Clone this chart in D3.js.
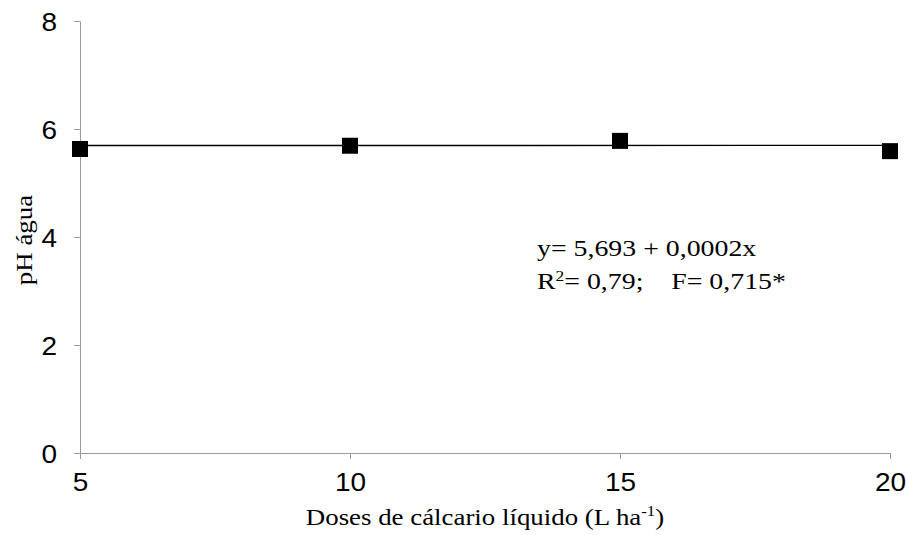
<!DOCTYPE html>
<html>
<head>
<meta charset="utf-8">
<script src="https://cdn.jsdelivr.net/npm/d3@7"></script>
<style>
  body { margin: 0; background: #fff; }
  svg { display: block; }
</style>
</head>
<body>
<div id="chart"></div>
<script>
// data
const doses = [5, 10, 15, 20];
const phValues = [5.63, 5.69, 5.78, 5.59];
const yTicks = [0, 2, 4, 6, 8];
const xTicks = [5, 10, 15, 20];
const fitA = 5.693, fitB = 0.0002;

const width = 906, height = 535;
const margin = {top: 21, right: 16, bottom: 82, left: 80};

const sans = "'Liberation Sans', Arial, sans-serif";
const serif = "'Liberation Serif', 'Times New Roman', serif";
const tickStretch = 1.12, serifStretch = 1.12;

const svg = d3.select("#chart").append("svg")
  .attr("width", width)
  .attr("height", height);

const x = d3.scaleLinear().domain([5, 20]).range([margin.left, width - margin.right]);
const y = d3.scaleLinear().domain([0, 8]).range([height - margin.bottom, margin.top]);

// y axis
const yAxis = svg.append("g")
  .attr("transform", "translate(" + margin.left + ",0)")
  .call(d3.axisLeft(y).tickValues(yTicks).tickSize(6));
yAxis.selectAll(".tick text")
  .attr("x", -23 / tickStretch)
  .attr("dy", "0.36em");

// x axis
const xAxis = svg.append("g")
  .attr("transform", "translate(0," + y(0) + ")")
  .call(d3.axisBottom(x).tickValues(xTicks).tickSize(6).tickPadding(14));

[yAxis, xAxis].forEach(function(g) {
  g.select(".domain").attr("stroke", "#9a9a9a");
  g.selectAll(".tick line").attr("stroke", "#9a9a9a");
  g.selectAll(".tick text")
    .attr("fill", "#000")
    .attr("transform", "scale(" + tickStretch + ",1)")
    .style("font-family", sans)
    .style("font-size", "25px");
});

// regression line
const line = d3.line()
  .x(function(d) { return x(d); })
  .y(function(d) { return y(fitA + fitB * d); });
svg.append("path")
  .datum([5, 20])
  .attr("d", line)
  .attr("fill", "none")
  .attr("stroke", "#000")
  .attr("stroke-width", 1.4);

// points
const sq = 16;
svg.selectAll("rect.pt")
  .data(doses)
  .enter()
  .append("rect")
  .attr("class", "pt")
  .attr("x", function(d) { return x(d) - sq / 2; })
  .attr("y", function(d, i) { return y(phValues[i]) - sq / 2; })
  .attr("width", sq)
  .attr("height", sq)
  .attr("fill", "#000");

// axis titles
svg.append("text")
  .attr("transform", "translate(32,240) rotate(-90) scale(" + serifStretch + ",1)")
  .attr("text-anchor", "middle")
  .style("font-family", serif)
  .style("font-size", "24px")
  .text("pH água");

const xt = svg.append("text")
  .attr("transform", "translate(" + ((margin.left + width - margin.right) / 2) + ",525) scale(" + serifStretch + ",1)")
  .attr("text-anchor", "middle")
  .style("font-family", serif)
  .style("font-size", "24px");
xt.append("tspan").text("Doses de cálcario líquido (L ha");
xt.append("tspan").attr("dy", -9).style("font-size", "15px").text("-1");
xt.append("tspan").attr("dy", 9).text(")");

// equation
const eqStretch = 1.16;
svg.append("text")
  .attr("transform", "translate(537,256) scale(" + eqStretch + ",1)")
  .style("font-family", serif)
  .style("font-size", "24px")
  .text("y= 5,693 + 0,0002x");
const eq2 = svg.append("text")
  .attr("transform", "translate(537,289) scale(" + eqStretch + ",1)")
  .style("font-family", serif)
  .style("font-size", "24px");
eq2.append("tspan").text("R");
eq2.append("tspan").attr("dy", -8).style("font-size", "15px").text("2");
eq2.append("tspan").attr("dy", 8).text("= 0,79;\u00a0\u00a0\u00a0\u00a0F= 0,715*");
</script>
</body>
</html>
